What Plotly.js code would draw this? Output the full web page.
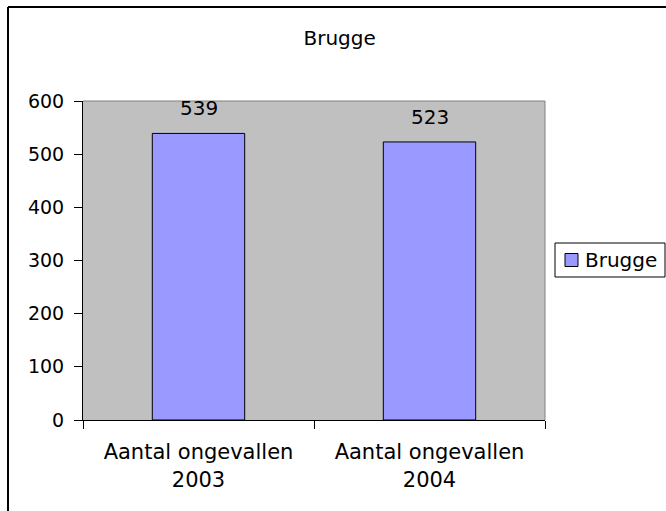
<!DOCTYPE html>
<html>
<head>
<meta charset="utf-8">
<script src="https://cdn.plot.ly/plotly-3.0.1.min.js"></script>
<style>
  html, body { margin: 0; padding: 0; background: #ffffff; }
  #chart { width: 666px; height: 511px; }
</style>
</head>
<body>
<div id="chart"></div>
<script>
const categories = ["Aantal ongevallen<br>2003", "Aantal ongevallen<br>2004"];
const seriesName = "Brugge";
const values = [539, 523];
const yTickVals = [0, 100, 200, 300, 400, 500, 600];
const chartTitle = "Brugge";

const FONT = "DejaVu Sans, Verdana, sans-serif";
const BAR_COLOR = "#9999FF";

// plot area in pixels: x 83..545, y 101..420
const PW = 462, PH = 319;
const px = v => (v - 83) / PW;        // pixel x -> paper x
const py = v => (420 - v) / PH;       // pixel y -> paper y

const trace = {
  type: "bar",
  x: categories,
  y: values,
  name: seriesName,
  marker: { color: BAR_COLOR, line: { color: "#000000", width: 1 } },
  hoverinfo: "none"
};

const annotations = categories.map((c, i) => ({
  x: c, y: values[i], xref: "x", yref: "y",
  text: String(values[i]), showarrow: false,
  yanchor: "bottom", yshift: 11,
  font: { family: FONT, size: 20, color: "#000000" }
}));

// legend entry text (series name)
annotations.push({
  xref: "paper", yref: "paper", x: px(583), y: py(260),
  xanchor: "left", yanchor: "middle", showarrow: false,
  text: seriesName,
  font: { family: FONT, size: 20, color: "#000000" }
});

const layout = {
  width: 666, height: 511,
  margin: { l: 83, r: 121, t: 101, b: 91, pad: 0 },
  paper_bgcolor: "#ffffff",
  plot_bgcolor: "#C0C0C0",
  bargap: 0.6,
  showlegend: false,
  title: {
    text: chartTitle, xref: "container", yref: "container",
    x: 0.51, y: 0.926, xanchor: "center", yanchor: "middle",
    font: { family: FONT, size: 20, color: "#000000" }
  },
  xaxis: {
    type: "category",
    showline: true, linecolor: "#000000", linewidth: 1,
    ticks: "outside", tickson: "boundaries", ticklen: 8, tickcolor: "#000000",
    ticklabelstandoff: 13,
    showgrid: false, zeroline: false,
    tickfont: { family: FONT, size: 21, color: "#000000" }
  },
  yaxis: {
    range: [0, 600], tickvals: yTickVals,
    showline: true, linecolor: "#000000", linewidth: 1,
    ticks: "outside", ticklen: 8, tickcolor: "#000000",
    ticklabelstandoff: 6,
    showgrid: false, zeroline: false,
    tickfont: { family: FONT, size: 19, color: "#000000" }
  },
  annotations: annotations,
  shapes: [
    // plot area top/right border (grey)
    { type: "line", xref: "paper", yref: "paper", x0: 0, x1: 1, y0: 1, y1: 1,
      line: { color: "#808080", width: 1 } },
    { type: "line", xref: "paper", yref: "paper", x0: 1, x1: 1, y0: 0, y1: 1,
      line: { color: "#808080", width: 1 } },
    // chart area outer border (top and left visible)
    { type: "line", xref: "paper", yref: "paper",
      x0: px(8), x1: px(700), y0: py(7), y1: py(7),
      line: { color: "#000000", width: 2 } },
    { type: "line", xref: "paper", yref: "paper",
      x0: px(8), x1: px(8), y0: py(7), y1: py(540),
      line: { color: "#000000", width: 2 } },
    // legend box
    { type: "rect", xref: "paper", yref: "paper",
      x0: px(555), x1: px(665), y0: py(243), y1: py(277),
      fillcolor: "#ffffff", line: { color: "#000000", width: 1 } },
    // legend swatch
    { type: "rect", xref: "paper", yref: "paper",
      x0: px(565), x1: px(578), y0: py(253.5), y1: py(266.5),
      fillcolor: BAR_COLOR, line: { color: "#000000", width: 1 } }
  ]
};

Plotly.newPlot("chart", [trace], layout, { staticPlot: true, displayModeBar: false });
</script>
</body>
</html>
